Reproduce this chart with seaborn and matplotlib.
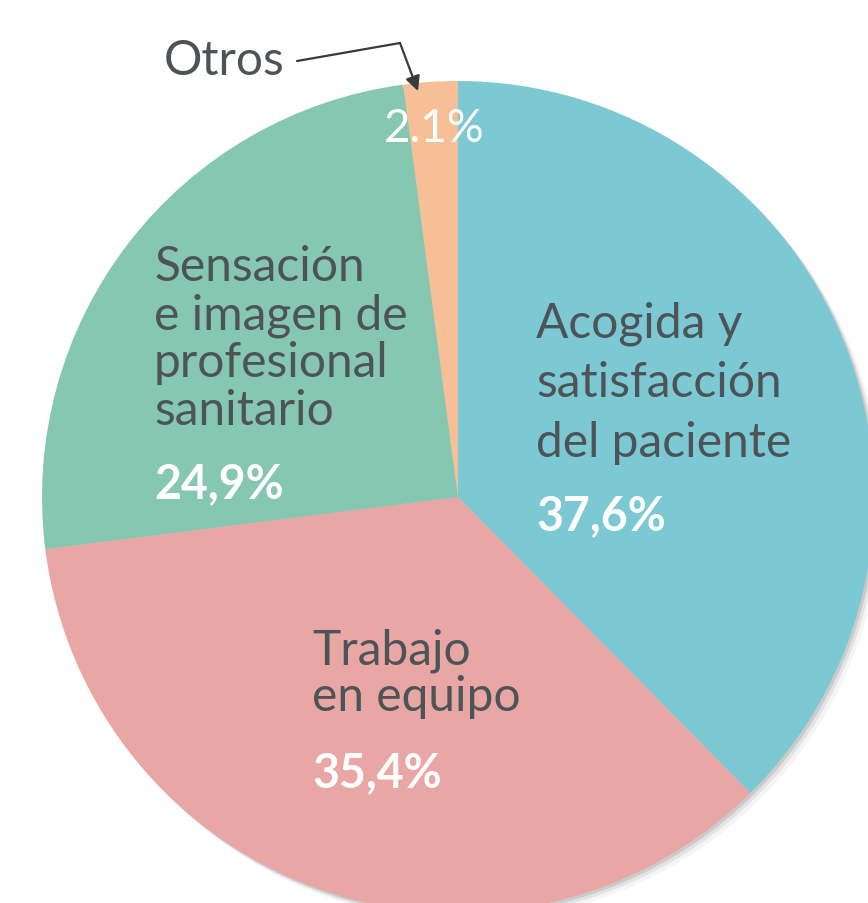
import matplotlib
matplotlib.use("Agg")
import matplotlib.pyplot as plt
import seaborn as sns
from matplotlib.patches import Circle

# ---- data ----
categories = ["Acogida y satisfacción del paciente", "Trabajo en equipo",
              "Sensación e imagen de profesional sanitario", "Otros"]
values = [37.6, 35.4, 24.9, 2.1]
pct_labels = ["37,6%", "35,4%", "24,9%", "2.1%"]
label_lines = [["Acogida y", "satisfacción", "del paciente"],
               ["Trabajo", "en equipo"],
               ["Sensación", "e imagen de", "profesional", "sanitario"],
               ["Otros"]]
colors = ["#7DC9D3", "#E8A6A4", "#86C7B1", "#F6BF95"]

sns.set_theme(style="white")
plt.rcParams["font.family"] = ["Lato", "DejaVu Sans"]

W, H = 868, 904
fig = plt.figure(figsize=(W / 100, H / 100), dpi=100)
ax = fig.add_axes([0, 0, 1, 1])

cx, cy, r = 458, H - 498, 416

# soft shadow
for d, a in [(8, 0.04), (5, 0.07), (2.5, 0.10)]:
    ax.add_patch(Circle((cx + d, cy - d), r, facecolor="black", edgecolor="none",
                        alpha=a, zorder=0))

ax.pie(values, colors=sns.color_palette(colors), startangle=90, counterclock=False,
       center=(cx, cy), radius=r, wedgeprops=dict(linewidth=0, zorder=1))

ax.set_xlim(0, W)
ax.set_ylim(0, H)
ax.set_aspect("equal")
ax.axis("off")

TXT = "#4D5457"
FS = 34.5
PFS = 33.5


def put(x, y, s, size, color=TXT, weight="normal"):
    ax.text(x, H - y, s, fontsize=size, color=color, weight=weight,
            ha="left", va="baseline", zorder=5)


# Acogida
for s, yb in zip(label_lines[0], [337, 397, 457]):
    put(536, yb, s, FS)
put(536, 530, pct_labels[0], PFS, "white", "bold")

# Trabajo
for s, yb in zip(label_lines[1], [665, 711]):
    put(312, yb, s, FS)
put(312, 787, pct_labels[1], PFS, "white", "bold")

# Sensación
for s, yb in zip(label_lines[2], [281, 329, 377, 425]):
    put(154, yb, s, FS)
put(154, 498, pct_labels[2], PFS, "white", "bold")

# Otros
put(164, 75, label_lines[3][0], FS)
put(384, 142, pct_labels[3], 33, "white", "normal")

# arrow
ax.plot([297, 400], [H - 62, H - 44], color="#3A3A3A", lw=1.6, zorder=6)
ax.annotate("", xy=(418, H - 92), xytext=(400, H - 44),
            arrowprops=dict(arrowstyle="-|>", color="#3A3A3A", lw=1.6,
                            mutation_scale=22, shrinkA=0, shrinkB=0), zorder=6)

fig.savefig("out.png", dpi=100, facecolor="white")
